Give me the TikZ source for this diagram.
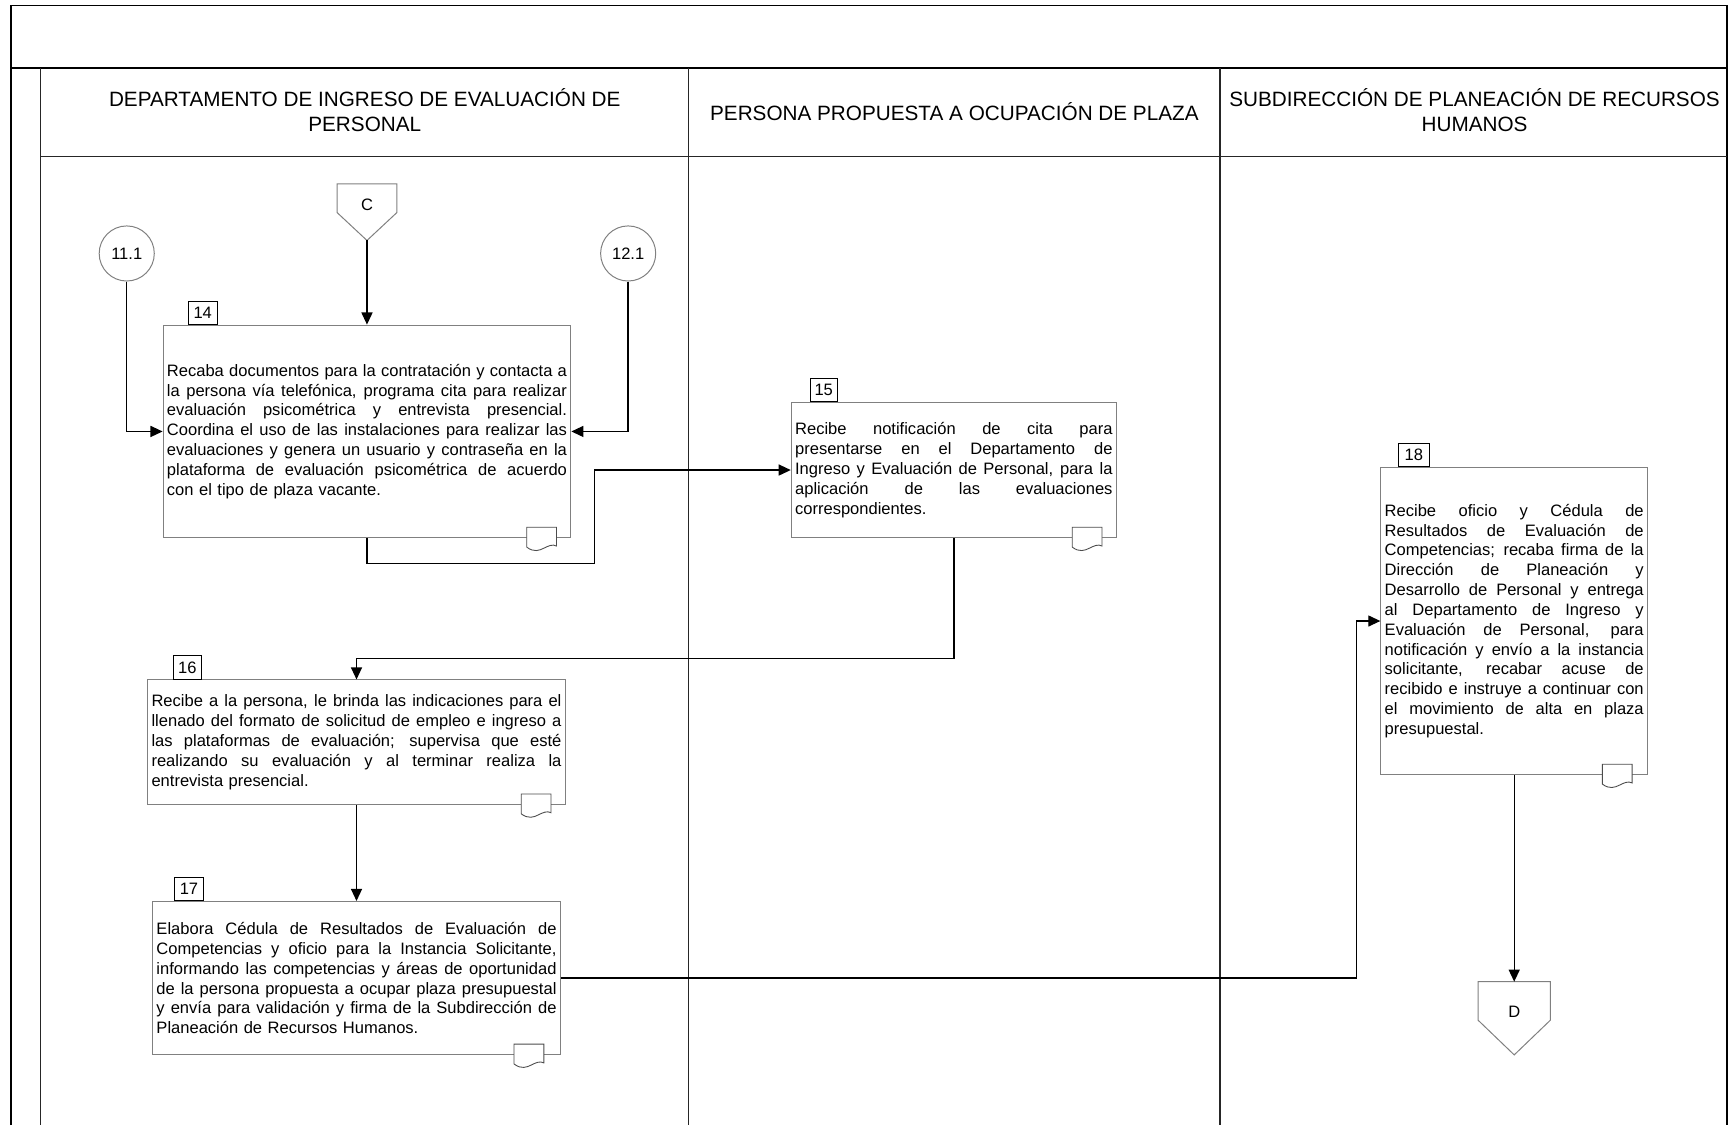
\documentclass[tikz,border=0pt]{standalone}
\usepackage{fontspec}
\setmainfont{Liberation Sans}
\usetikzlibrary{arrows.meta,calc}

% one justified line of an activity description, as wide as the text block;
% the font's own stretchable word space is restored inside the line
\newcommand{\jl}[1]{\makebox[\hsize][s]{\spaceskip=0pt\xspaceskip=0pt\relax #1}}

\begin{document}
\begin{tikzpicture}[x=1pt,y=-1pt,
  rule/.style={line width=1.6pt,black},
  lanerule/.style={line width=1pt,black!85},
  lanehead/.style={align=center,font=\fontsize{18.8}{23}\selectfont,inner sep=0pt},
  activity/.style={draw=black!50,line width=0.9pt,fill=white,inner xsep=3.5pt,inner ysep=0pt,
    align=left,font=\fontsize{15}{18}\selectfont},
  numtag/.style={draw=black,line width=0.8pt,fill=white,minimum width=26pt,minimum height=21pt,
    inner sep=0pt,anchor=south west,font=\fontsize{15}{18}\selectfont},
  refcircle/.style={circle,draw=black!50,line width=0.9pt,minimum size=50pt,inner sep=0pt,
    font=\fontsize{15}{18}\selectfont},
  offpage/.style={inner sep=0pt},
  pentagon/.style={draw=black!50,line width=0.9pt,fill=white},
  plain/.style={inner sep=0pt,font=\fontsize{15}{18}\selectfont},
  link/.style={line width=1.3pt,-{Triangle[length=11pt,width=10pt]}},
  docmark/.pic={\draw[black!70,line width=0.8pt,fill=white]
    (-13.5,-10) -- (-13.5,8) .. controls (-7,13) and (-2,11) .. (2,9)
    .. controls (6,7) and (10,5) .. (13.5,7) -- (13.5,-10) -- cycle;}
]
\useasboundingbox (0,0) rectangle (1568,1021);

% swimlane frame
\draw[rule] (10,1021) -- (10,5) -- (1567,5) -- (1567,1021);
\draw[rule] (10,62) -- (1567,62);
\draw[lanerule] (37,62) -- (37,1021);
\draw[lanerule] (37,142) -- (1567,142);
\draw[lanerule] (625,62) -- (625,1021);
\draw[lanerule] (1107,62) -- (1107,1021);

% lane titles
\node[lanehead] (h1) at (331,100) {DEPARTAMENTO DE INGRESO DE EVALUACIÓN DE\\PERSONAL};
\node[lanehead] (h2) at (866,101) {PERSONA PROPUESTA A OCUPACIÓN DE PLAZA};
\node[lanehead] (h3) at (1338,100) {SUBDIRECCIÓN DE PLANEACIÓN DE RECURSOS\\HUMANOS};

% incoming connectors
\node[offpage,minimum width=54pt,minimum height=51pt] (C) at (333,192.5) {};
\draw[pentagon] (C.north west) -- (C.north east) -- ($(C.north east)+(0,26)$)
  -- (C.south) -- ($(C.north west)+(0,26)$) -- cycle;
\node[plain] (C-text) at ($(C.north)+(0,19)$) {C};

\node[refcircle] (c111) at (115,230) {11.1};
\node[refcircle] (c121) at (570,230) {12.1};

% activities
\node[activity,text width=363pt,minimum height=193pt] (b14) at (333,391.5) {%
\jl{Recaba documentos para la contratación y contacta a}\\
\jl{la persona vía telefónica, programa cita para realizar}\\
\jl{evaluación psicométrica y entrevista presencial.}\\
\jl{Coordina el uso de las instalaciones para realizar las}\\
\jl{evaluaciones y genera un usuario y contraseña en la}\\
\jl{plataforma de evaluación psicométrica de acuerdo}\\
con el tipo de plaza vacante.};
\node[numtag] (t14) at ($(b14.north west)+(23,0)$) {14};
\pic at ($(b14.south east)+(-27,0)$) {docmark};

\node[activity,text width=288pt,minimum height=123pt] (b15) at (865.5,426.5) {%
\jl{Recibe notificación de cita para}\\
\jl{presentarse en el Departamento de}\\
\jl{Ingreso y Evaluación de Personal, para la}\\
\jl{aplicación de las evaluaciones}\\
correspondientes.};
\node[numtag,minimum width=25pt] (t15) at ($(b15.north west)+(17,0)$) {15};
\pic at ($(b15.south east)+(-27,0)$) {docmark};

\node[activity,text width=372pt,minimum height=113pt] (b16) at (323.5,673.5) {%
\jl{Recibe a la persona, le brinda las indicaciones para el}\\
\jl{llenado del formato de solicitud de empleo e ingreso a}\\
\jl{las plataformas de evaluación; supervisa que esté}\\
\jl{realizando su evaluación y al terminar realiza la}\\
entrevista presencial.};
\node[numtag] (t16) at ($(b16.north west)+(23,0)$) {16};
\pic at ($(b16.south east)+(-27,0)$) {docmark};

\node[activity,text width=363pt,minimum height=139pt] (b17) at (323.5,887.5) {%
\jl{Elabora Cédula de Resultados de Evaluación de}\\
\jl{Competencias y oficio para la Instancia Solicitante,}\\
\jl{informando las competencias y áreas de oportunidad}\\
\jl{de la persona propuesta a ocupar plaza presupuestal}\\
\jl{y envía para validación y firma de la Subdirección de}\\
Planeación de Recursos Humanos.};
\node[numtag] (t17) at ($(b17.north west)+(20,0)$) {17};
\pic at ($(b17.south east)+(-29,0)$) {docmark};

\node[activity,text width=235pt,minimum height=279pt] (b18) at (1374,563.5) {%
\jl{Recibe oficio y Cédula de}\\
\jl{Resultados de Evaluación de}\\
\jl{Competencias; recaba firma de la}\\
\jl{Dirección de Planeación y}\\
\jl{Desarrollo de Personal y entrega}\\
\jl{al Departamento de Ingreso y}\\
\jl{Evaluación de Personal, para}\\
\jl{notificación y envío a la instancia}\\
\jl{solicitante, recabar acuse de}\\
\jl{recibido e instruye a continuar con}\\
\jl{el movimiento de alta en plaza}\\
presupuestal.};
\node[numtag,minimum width=28pt] (t18) at ($(b18.north west)+(16,0)$) {18};
\pic at ($(b18.south east)+(-28,0)$) {docmark};

% outgoing connector
\node[offpage,minimum width=65pt,minimum height=66pt] (D) at (1374,924) {};
\draw[pentagon] (D.north west) -- (D.north east) -- ($(D.north east)+(0,35)$)
  -- (D.south) -- ($(D.north west)+(0,35)$) -- cycle;
\node[plain] (D-text) at ($(D.north)+(0,27)$) {D};

% flow
\draw[link] (C.south) -- (b14.north);
\draw[link] (c111.south) |- (b14.west);
\draw[link] (c121.south) |- (b14.east);
\draw[link] (b14.south) -- ++(0,23) -| ($(b15.west)+(-178,0)$) -- (b15.west);
\draw[link] (b15.south) -- ++(0,109) -| (b16.north);
\draw[link] (b16.south) -- (b17.north);
\draw[link] (b17.east) -- ++(722,0) |- (b18.west);
\draw[link] (b18.south) -- (D.north);
\end{tikzpicture}
\end{document}
